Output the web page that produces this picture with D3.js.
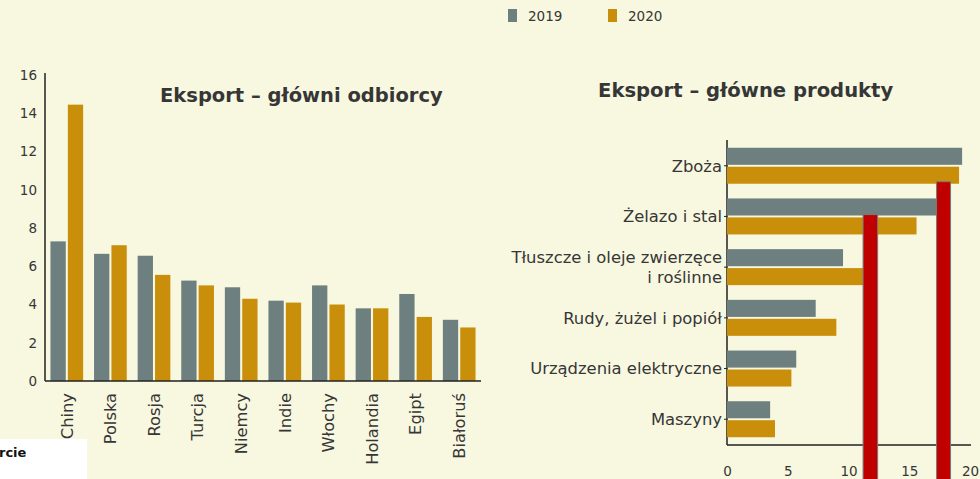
<!DOCTYPE html>
<html><head><meta charset="utf-8">
<script src="https://cdn.jsdelivr.net/npm/d3@7"></script>
<style>
html,body{margin:0;padding:0;background:#f8f8e0;}
svg{display:block;font-family:"DejaVu Sans",sans-serif;}
</style></head><body>
<svg id="c" width="980" height="479"></svg>
<script>
// ---- data ----
const years = ["2019", "2020"];
const countries = ["Chiny","Polska","Rosja","Turcja","Niemcy","Indie","Włochy","Holandia","Egipt","Białoruś"];
const exp2019 = [7.3, 6.65, 6.55, 5.25, 4.9, 4.2, 5.0, 3.8, 4.55, 3.2];
const exp2020 = [14.45, 7.1, 5.55, 5.0, 4.3, 4.1, 4.0, 3.8, 3.35, 2.8];
const yTicks = [0, 2, 4, 6, 8, 10, 12, 14, 16];
const products = ["Zboża","Żelazo i stal","Tłuszcze i oleje zwierzęce\ni roślinne","Rudy, żużel i popiół","Urządzenia elektryczne","Maszyny"];
const prod2019 = [19.35, 17.3, 9.55, 7.3, 5.7, 3.55];
const prod2020 = [19.1, 15.6, 11.5, 9.0, 5.3, 3.95];
const xTicks = [0, 5, 10, 15, 20];
// red overlay columns (x extent in product units, height in overlay units)
const overlayFrom = [11.2, 17.25];
const overlayTo = [12.4, 18.4];
const overlayVal = [78, 87.7];
const titles = ["Eksport – główni odbiorcy", "Eksport – główne produkty"];
const noteText = "rcie";

const colors = {"2019": "#6e7f7f", "2020": "#c98f0a"};
const textCol = "#363636";
const FONT = "'DejaVu Sans',sans-serif";
const svg = d3.select("#c");

// ---- legend ----
const lg = svg.append("g");
years.forEach((y, i) => {
  const gx = 508 + i * 100;
  lg.append("rect").attr("x", gx).attr("y", 9).attr("width", 9).attr("height", 13).attr("fill", colors[y]);
  lg.append("text").attr("x", gx + 20).attr("y", 20.5).attr("font-size", 13.5).attr("fill", textCol).text(y);
});

// ---- left chart ----
const x0 = d3.scaleBand().domain(countries).range([45, 481]).paddingInner(0.25).paddingOuter(0.125);
const x1 = d3.scaleBand().domain(years).range([0, x0.bandwidth()]).paddingInner(0.12);
const yL = d3.scaleLinear().domain([0, 16]).range([381, 75]);

const L = svg.append("g");
L.append("text").attr("x", 160).attr("y", 102).attr("font-size", 19.5).attr("font-weight", 700)
  .attr("fill", textCol).text(titles[0]);

const yAxisL = d3.axisLeft(yL).tickValues(yTicks).tickSize(0).tickPadding(8);
const gyL = L.append("g").attr("transform", "translate(45,0)").call(yAxisL);
gyL.select(".domain").attr("d", `M0,${yL(16) - 2}V${yL(0)}`).attr("stroke", "#222").attr("stroke-width", 1.5);
gyL.selectAll("text").attr("font-size", 13.5).attr("fill", textCol).attr("font-family", FONT);

const leftData = countries.map((c, i) => ({c, v: [exp2019[i], exp2020[i]]}));
const gr = L.selectAll("g.grp").data(leftData).join("g").attr("class", "grp")
  .attr("transform", d => `translate(${x0(d.c)},0)`);
gr.selectAll("rect").data(d => years.map((y, j) => ({y, v: d.v[j]}))).join("rect")
  .attr("x", d => x1(d.y)).attr("width", x1.bandwidth())
  .attr("y", d => yL(d.v)).attr("height", d => yL(0) - yL(d.v))
  .attr("fill", d => colors[d.y]);

const xAxisL = d3.axisBottom(x0).tickSize(0).tickPadding(0);
const gxL = L.append("g").attr("transform", `translate(0,${yL(0)})`).call(xAxisL);
gxL.select(".domain").attr("d", `M45,0H481`).attr("stroke", "#222").attr("stroke-width", 1.5);
gxL.selectAll("text").attr("font-size", 16.3).attr("fill", textCol).attr("font-family", FONT)
  .attr("transform", "rotate(-90)").attr("text-anchor", "end").attr("dy", "0.35em").attr("x", -12).attr("y", 0);

// ---- right chart ----
const xR = d3.scaleLinear().domain([0, 20]).range([727, 970]);
const yR0 = d3.scaleBand().domain(products).range([140, 445]).paddingInner(0.29).paddingOuter(0.153);
const yR1 = d3.scaleBand().domain(years).range([0, yR0.bandwidth()]).paddingInner(0.1);

const R = svg.append("g");
R.append("text").attr("x", 598).attr("y", 97).attr("font-size", 19.6).attr("font-weight", 700)
  .attr("fill", textCol).text(titles[1]);

// y axis line (drawn under bars)
const gyR = R.append("g").attr("transform", `translate(${xR(0)},0)`).call(d3.axisLeft(yR0).tickSize(3).tickPadding(2));
gyR.select(".domain").attr("d", `M0,140V${445}`).attr("stroke", "#222").attr("stroke-width", 1.5);
gyR.selectAll(".tick line").attr("stroke", "#222");
gyR.selectAll(".tick text").each(function(d) {
  const t = d3.select(this);
  const lines = d.split("\n");
  t.text(null).attr("font-size", 16.4).attr("fill", textCol).attr("font-family", FONT).attr("dy", null);
  lines.forEach((ln, k) => {
    t.append("tspan").attr("x", -5).attr("y", (k - (lines.length - 1) / 2) * 19.5).attr("dy", "0.35em").text(ln);
  });
});

const rightData = products.map((p, i) => ({p, v: [prod2019[i], prod2020[i]]}));
const grR = R.selectAll("g.grpR").data(rightData).join("g").attr("class", "grpR")
  .attr("transform", d => `translate(0,${yR0(d.p)})`);
grR.selectAll("rect").data(d => years.map((y, j) => ({y, v: d.v[j]}))).join("rect")
  .attr("y", d => yR1(d.y)).attr("height", yR1.bandwidth())
  .attr("x", xR(0)).attr("width", d => xR(d.v) - xR(0))
  .attr("fill", d => colors[d.y]);

const gxR = R.append("g").attr("transform", "translate(0,445)")
  .call(d3.axisBottom(xR).tickValues(xTicks).tickSize(0).tickPadding(21));
gxR.select(".domain").attr("d", `M${xR(0)},0H971`).attr("stroke", "#222").attr("stroke-width", 1.5);
gxR.selectAll("text").attr("font-size", 13.5).attr("fill", textCol).attr("font-family", FONT);

// red overlay columns
const yO = d3.scaleLinear().domain([0, 100]).range([479, 140]);
R.selectAll("rect.ov").data(overlayVal.map((v, i) => ({v, a: overlayFrom[i], b: overlayTo[i]}))).join("rect")
  .attr("class", "ov")
  .attr("x", d => xR(d.a)).attr("width", d => xR(d.b) - xR(d.a))
  .attr("y", d => yO(d.v)).attr("height", d => yO(0) - yO(d.v) + 5)
  .attr("fill", "#c00000").attr("stroke", "#7a7a7a").attr("stroke-width", 1);

// bottom-left white note box
const nb = svg.append("g");
nb.append("rect").attr("x", 0).attr("y", 439).attr("width", 87).attr("height", 45).attr("fill", "#ffffff");
nb.append("text").attr("x", -1).attr("y", 457).attr("font-size", 13).attr("font-weight", 700)
  .attr("fill", "#111").text(noteText);
</script>
</body></html>
